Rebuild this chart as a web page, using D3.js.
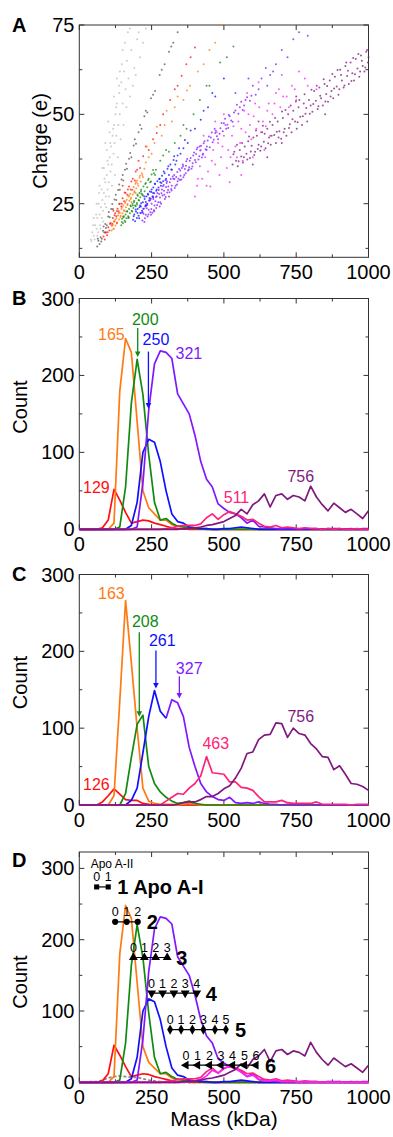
<!DOCTYPE html>
<html><head><meta charset="utf-8">
<script src="https://cdn.jsdelivr.net/npm/d3@7"></script>
<style>
body{margin:0;background:#fff}
svg{display:block}
text{font-family:"Liberation Sans",Arial,Helvetica,sans-serif}
</style>
</head><body>
<svg id="chart" width="393" height="1137"></svg>
<script>
// ---------------- DATA ----------------
const massBins = [0,20,40,60,80,100,120,140,160,180,200,220,240,260,280,300,320,340,360,380,400,420,440,460,480,500,520,540,560,580,600,620,640,660,680,700,720,740,760,780,800,820,840,860,880,900,920,940,960,980,1000];
const massTicks = [0,250,500,750,1000];
const massMinorTicks = [125,375,625,875];
const chargeTicks = [25,50,75];
const chargeMinorTicks = [12.5,37.5,62.5];
const countTicks = [0,100,200,300];
const countMinorTicks = [50,150,250];

// Panel B (also reused in D)
const redB    = [0,0,0,0,2,12,52,38,22,8,10,12,11,8,6,4,2,1,1,0,0,0,0,0,0,0,0,0,0,0,0,0,0,0,0,0,0,0,0,0,0,0,0,0,0,0,0,0,0,0,0];
const orangeB = [0,0,0,0,0,0,8,180,248,230,140,50,28,20,12,12,6,4,4,3,2,1,1,0,0,0,0,0,0,0,0,0,0,0,0,0,0,0,0,0,0,0,0,0,0,0,0,0,0,0,0];
const greenB  = [0,0,0,0,0,0,0,3,55,164,221,175,97,35,12,14,8,4,3,2,1,1,0,0,0,0,0,0,0,0,0,0,0,0,0,0,0,0,0,0,0,0,0,0,0,0,0,0,0,0,0];
const blueB   = [0,0,0,0,0,0,0,0,0,5,35,100,117,113,88,50,20,10,8,3,2,1,1,0,0,1,1,2,3,2,1,0,0,0,0,0,0,0,0,0,0,0,0,0,0,0,0,0,0,0,0];
const purpleB = [0,0,0,0,0,0,0,0,0,0,3,60,155,215,232,230,222,176,163,150,122,88,65,55,33,27,22,20,15,8,12,4,3,2,1,1,1,1,0,1,1,1,0,1,1,1,0,1,0,1,1];
const pinkB   = [0,0,0,0,0,0,0,0,0,0,0,0,0,0,0,1,2,4,5,5,5,7,15,20,13,19,23,20,17,12,13,8,4,3,5,2,3,2,1,2,1,1,0,1,0,1,0,0,1,0,0];
const plumB   = [0,0,0,0,0,0,0,0,0,0,0,0,0,0,0,0,0,0,1,1,2,3,5,6,8,10,14,18,26,20,32,37,46,29,44,46,39,44,42,37,56,42,32,24,34,28,22,26,20,14,24];

// Panel C
const redC    = [0,0,0,0,4,12,21,14,7,6,6,2,1,0,0,0,0,0,0,0,0,0,0,0,0,0,0,0,0,0,0,0,0,0,0,0,0,0,0,0,0,0,0,0,0,0,0,0,0,0,0];
const orangeC = [0,0,0,0,0,0,12,135,266,185,100,22,5,2,1,1,1,0,1,2,1,0,0,0,0,0,0,0,0,0,0,0,0,0,0,0,0,0,0,0,0,0,0,0,0,0,0,0,0,0,0];
const greenC  = [0,0,0,0,0,0,0,0,15,62,105,117,50,28,17,10,5,2,3,5,2,1,0,0,0,0,0,0,0,0,0,0,0,0,0,0,0,0,0,0,0,0,0,0,0,0,0,0,0,0,0];
const blueC   = [0,0,0,0,0,0,0,0,0,6,22,68,115,149,122,113,null,null,null,null,null,null,null,null,null,null,null,null,null,null,null,null,null,null,null,null,null,null,null,null,null,null,null,null,null,null,null,null,null,null,null];
const purpleC = [null,null,null,null,null,null,null,null,null,null,null,null,null,null,null,113,137,133,115,75,50,28,17,11,7,6,10,3,2,3,2,4,2,1,1,0,1,0,0,0,1,0,0,0,0,0,0,0,0,0,0];
const pinkC   = [0,0,0,0,0,0,0,0,0,0,0,0,0,0,0,5,10,15,14,22,28,38,63,42,41,40,30,30,23,22,19,11,4,4,4,6,3,2,2,2,2,4,1,1,1,1,1,0,1,1,1];
const plumC   = [0,0,0,0,0,0,0,0,0,0,0,0,0,0,0,0,0,1,3,4,4,7,11,11,15,21,25,35,48,67,69,85,91,92,107,106,88,100,93,91,80,73,63,62,46,51,40,28,27,24,19];

// Panel D extra series
const grayD    = [0,0,1,1,3,6,8,9,8,7,7,5,3,2,1,0,0,0,0,0,0,0,0,0,0,0,0,0,0,0,0,0,0,0,0,0,0,0,0,0,0,0,0,0,0,0,0,0,0,0,0];
const magentaD = [0,0,0,0,0,0,0,0,0,0,0,0,0,0,0,0,0,0,0,1,2,4,9,17,13,20,22,19,14,8,10,4,2,2,3,1,1,1,0,1,0,0,0,0,0,0,0,0,0,0,0];

// Panel D complex ladders (mass of each state, count level)
const ladderMasses = [[60,100],[124,164,202],[187,225,264,304],[250,288,327,366,406],[314,352,391,429,469,507],[369,409,450,490,530,571,611]];
const ladderLevels = [274,225,175,125,74,24];
const ladderNames  = ["1 Apo A-I","2","3","4","5","6"];

// Panel A scatter (mass kDa, charge e)
const scatterLightGray = [[40,15],[45,17],[50,16],[55,19],[60,18],[62,21],[65,17],[70,22],[72,19],[75,24],[78,21],[80,26],[82,23],[85,28],[88,25],[90,31],[92,27],[95,33],[98,29],[100,36],[102,31],[105,38],[108,34],[110,41],[112,36],[115,44],[118,39],[120,47],[122,42],[125,50],[128,44],[130,53],[135,47],[138,56],[140,50],[145,59],[150,53],[155,62],[160,57],[165,65],[170,60],[180,68],[190,63],[200,71],[210,66],[95,40],[85,35],[120,55],[140,62],[60,25],[50,21],[68,28],[105,45],[130,60],[150,68],[175,74],
 [42,14.5],[48,19],[53,15],[58,22],[63,16],[67,25],[73,18],[77,29],[83,20],[87,32],[93,24],[97,37],[103,27],[107,42],[113,30],[117,46],[123,33],[127,52],[133,38],[137,58],[143,43],[147,64],[153,47],[158,70],[163,52],[168,73],[175,55],[185,58],[195,61],[205,73],[220,70],[230,74],[100,48],[90,42],[80,35],[70,30]];
const scatterDarkGray = [[62,13],[66,14.6],[70,13.7],[74,15.6],[78,15.2],[82,17.4],[86,17],[90,19.3],[95,19],[100,21.4],[105,21.2],[110,23.5],[116,23.5],[122,26.2],[128,26],[134,28.8],[140,28.9],[146,31.8],[152,31.5],[158,34.5],[165,34.8],[172,37.6],[180,38],[188,41.3],[196,41.8],[205,45],[215,46],[225,49.5],[235,50.5],[248,54.5],[262,56.5],[278,61],[295,64],[310,67.5],[325,70],[340,73],
 [64,15.2],[76,14.4],[84,18.6],[92,18.2],[102,22.7],[114,24.9],[126,27.5],[138,30.4],[150,33],[162,36.2],[176,39.2],[192,43],[210,47],[230,51],[255,55.5],[285,62.5],[318,69]];
const scatterRed = [[84,15.8],[88,15],[92,17],[96,16.2],[100,18.4],[104,17.5],[108,19.6],[112,18.9],[116,21],[120,20],[124,22.3],[128,21.5],[132,23.6],[136,22.8],[140,25],[145,24.2],[150,26.5],[155,25.7],[160,28],[166,27.5],[172,29.8],[178,29],[185,32],[192,31.5],[200,34.5],[210,35],[221,38.3],[240,40],[268,44.8],[290,50],[314,54],[330,57],[354,60.8],[370,64],[400,68.7],[150,30],[130,19.5],[118,23],
 [90,16.9],[98,17],[106,19.3],[114,19.4],[122,21.8],[130,22.9],[138,24.9],[147,25],[157,28.1],[168,29],[180,31.2],[195,34],[205,37],[230,41],[255,43],[280,47],[340,58],[385,66]];
const scatterOrange = [[112,17.5],[116,19.2],[119,18],[122,20],[125,18.9],[128,20.9],[131,19.8],[134,21.7],[137,20.6],[140,22.5],[143,21.6],[146,23.5],[149,22.3],[152,24.5],[155,23.2],[158,25.2],[161,24],[164,26.1],[167,24.9],[170,27],[173,25.8],[176,27.8],[179,26.7],[182,28.8],[185,27.6],[188,29.7],[191,28.5],[194,30.6],[197,29.3],[200,31.4],[204,30],[208,32.3],[212,31.2],[216,33.5],[220,32.5],[225,34.8],[230,36.5],[233,41],[250,39],[268,46.5],[285,44],[302,51],[320,48],[340,55],[372,56.7],[383,58],[410,62],[450,68],[487,75],[135,23],[160,22.8],[180,25.5],[150,21.4],[195,28],
 [114,18.9],[118,17.9],[124,20.5],[130,19.6],[136,22.3],[142,21.2],[148,24],[154,23],[160,25.6],[166,24.6],[172,27.3],[178,26.3],[184,28.9],[190,28.1],[196,31],[202,30.6],[210,32.8],[218,33],[240,38],[260,42],[295,47],[330,52],[360,54],[430,64],[470,70]];
const scatterGreen = [[145,19],[148,20.8],[151,19.5],[154,21.5],[157,20.2],[160,22],[163,20.9],[166,22.8],[169,21.5],[172,23.5],[175,22.3],[178,24.3],[181,23],[184,25],[187,23.8],[190,25.8],[193,24.5],[196,26.5],[199,25.2],[202,27.2],[205,26],[208,28],[211,26.8],[214,28.9],[218,27.6],[222,29.8],[226,28.5],[230,30.8],[235,29.6],[240,32],[245,31],[250,33.2],[258,33.5],[265,34.5],[280,37],[300,40],[290,38.5],[330,42],[350,44],[371,46],[395,50],[417,54],[450,58],[487,64.5],[533,69],[170,21],[185,24.5],[200,24.8],[215,27.8],
 [147,19.9],[153,21.2],[159,19.9],[165,22.9],[171,21.2],[177,24.5],[183,22.8],[189,25.5],[195,24.3],[201,27.5],[207,25.9],[213,28.4],[220,27.3],[228,30.5],[238,31.6],[248,31.2],[255,34.4],[262,33],[310,39.5],[360,47],[440,58],[510,66]];
const scatterBlue = [[186,20.5],[190,22],[193,20.1],[196,22.8],[199,21],[202,23.5],[205,21.6],[208,24],[211,22.4],[214,25.1],[217,23],[220,25.4],[223,23.6],[226,26.3],[229,24.5],[232,27],[235,25],[238,27.5],[241,25.9],[244,28.4],[247,26.4],[250,29],[253,27],[256,29.5],[259,27.9],[262,30.5],[266,28.6],[270,31.3],[274,29.5],[278,32],[282,30],[286,32.8],[290,31.3],[295,33.5],[300,32],[305,34.8],[310,33],[315,36],[320,34.5],[326,37.2],[332,36],[340,38.5],[350,39],[360,40.5],[375,42],[400,46],[420,48.5],[445,52],[470,55],[210,24.5],[230,25.5],[255,28],[280,31],
 [188,21.5],[195,23.4],[201,22.4],[207,20.9],[213,24.2],[219,22.6],[225,27],[231,24.4],[237,27.8],[243,26.6],[249,28.3],[255,26.8],[261,30.6],[268,29],[276,31.9],[284,30.8],[292,34],[298,31.6],[308,35.5],[318,34.6],[328,38.3],[336,37],[345,40.5],[365,42.8],[385,45.5],[430,51],[460,56],[500,60]];
const scatterPurple = [[215,22.5],[218,20.3],[222,22.2],[225,19.9],[228,24.2],[230,21.9],[233,23.7],[236,21.4],[240,23.3],[243,25.9],[246,22.6],[250,25],[253,22.5],[256,26.3],[260,24.5],[263,25.7],[266,23.8],[270,28],[273,25.4],[276,27.7],[280,25.4],[284,27.9],[288,27.3],[292,30.2],[296,26.3],[300,29.7],[304,28.1],[308,29.8],[312,28.2],[316,31.9],[320,30],[325,32],[330,29.4],[335,32.5],[340,31.3],[345,34.7],[350,32.8],[355,35],[360,32.4],[365,34.7],[370,36.9],[376,34.3],[382,37],[388,34.8],[394,38.5],[400,37.2],[406,40.2],[412,37.4],[418,39.9],[424,37.9],[430,41.9],[437,40.2],[444,42.7],[451,40.8],[458,44.9],[465,42.9],[472,45.4],[480,43],[488,46.1],[496,45.3],[504,48.8],[512,47.1],[520,49.5],[530,47.9],[540,51.1],[550,50.2],[560,53.5],[570,52.5],[580,54.8],[590,53.8],[232,24.8],[248,21.9],[258,23.2],[268,27.1],[278,24.2],[286,29],[294,27.5],[302,30.8],[310,27],[318,29.1],[328,33],[338,30.4],[348,31.6],[358,36],[368,33.5],[380,35.2],[392,36.3],[404,38.9],[416,41],[428,39],[440,40],[455,43.5],[470,44.8],[485,44.6],[500,47.5],[515,46.2],[535,50.5],[555,52],[575,54],[600,58],[620,57],[645,63],[660,61],[700,68],[720,66],[760,73],[680,64],[610,55.5],[540,56],[585,60],
 [221,23.6],[227,20.9],[235,24.6],[239,22],[245,26],[249,23.5],[255,27],[259,22.9],[265,26.9],[269,24.6],[275,28.8],[279,26.7],[283,25],[289,29.9],[293,28.6],[299,26.9],[303,31.3],[307,28.8],[313,31],[319,28.7],[323,32.6],[329,31.9],[333,30],[339,33.9],[343,32],[349,34.3],[353,31.8],[359,35.5],[363,33],[369,35.6],[373,37.5],[379,34.6],[385,37.8],[391,35.4],[397,39.3],[403,36.6],[409,40.7],[415,38.3],[421,41.2],[427,38.7],[433,42.5],[441,41],[448,43.8],[461,42.2],[468,46],[476,43.9],[492,47.6],[508,46],[517,49.8],[525,48.3],[545,52.7],[565,51.2],[595,55.2],[630,60],[670,62],[740,71],[790,72],[650,58]];
const scatterMagenta = [[400,27],[407,30],[417,35.5],[425,32],[435,38],[445,34],[453,29.8],[463,40],[470,36],[480,42],[490,38],[500,44],[510,35],[523,38],[533,46.7],[540,41],[550,48],[556,42],[565,37],[575,45],[585,50],[595,43],[603,49.5],[612,46],[622,52],[635,48],[645,46.7],[655,53],[668,50],[680,56],[695,52],[717,55],[735,58],[750,54],[780,60],[430,44],[470,48],[520,31],[560,33],[600,38],[640,40],[500,50],[580,56],[620,59],[700,61],
 [410,32],[420,40],[440,30],[458,37],[475,45],[485,33],[495,41],[505,47],[515,40],[528,44],[545,38],[560,46],[570,51],[590,47],[608,53],[628,45],[650,51],[660,44],[675,53],[690,57],[705,55],[725,52],[745,57],[760,62],[790,58],[820,57]];
const scatterPlum = [[530,36],[536,39.5],[542,37],[548,35.5],[555,40],[560,38.2],[566,36.5],[572,41],[578,39],[584,42.5],[590,37.8],[596,41.2],[602,43.5],[608,39.5],[614,44],[620,41.5],[626,39.8],[632,45],[638,42.3],[644,40.5],[650,46],[656,43.5],[662,41.5],[668,47],[674,44.2],[680,42],[686,48],[692,45.3],[698,43.2],[704,49],[710,46],[716,44],[722,50],[728,47.2],[734,45],[740,51],[746,48],[752,46],[758,52],[764,49.3],[770,47],[776,53],[782,50.2],[788,48],[794,54],[800,52.5],[806,50.7],[812,56.5],[818,53.8],[824,51.5],[830,57.5],[836,54.5],[842,52.5],[848,58.5],[854,55.7],[860,53.5],[866,59.5],[872,56.5],[878,54.5],[884,60.5],[890,57.8],[896,55.5],[902,62.5],[908,59.5],[914,57.5],[920,63.5],[926,60.7],[932,58.5],[938,64.5],[944,61.5],[950,59.5],[956,65.5],[962,62.8],[968,60.5],[974,66.5],[980,63.5],[986,62],[992,67.5],[998,64.5],[1000,66],[600,36],[650,38],[700,42],[620,48],[750,55],[850,50],
 [533,38.8],[545,41.5],[551,36.9],[563,42],[569,38],[581,37.4],[587,43.8],[593,39.6],[605,38.6],[611,45.5],[617,40.3],[629,41],[635,46.8],[641,44.6],[653,41.9],[659,47.9],[665,44],[677,49],[683,45.1],[689,43.5],[701,50.8],[707,45],[713,51.2],[725,46.2],[731,52.5],[737,48.6],[749,53.6],[755,47.8],[761,54],[773,49.5],[779,55.6],[785,51.8],[797,50.2],[803,56.9],[809,52.9],[821,58],[827,52.3],[833,55.2],[845,59.8],[851,53.6],[857,57.9],[869,55],[875,61.3],[881,57.2],[893,62.4],[899,57],[905,61],[917,58.1],[923,64.5],[929,62.2],[941,59.3],[947,65.8],[953,61.2],[965,66.9],[971,62],[977,65],[989,63.1],[995,68]];

// ---------------- STYLE / LAYOUT ----------------
const COL = {red:"#ff1010", orange:"#ff7a10", green:"#118a11", blue:"#1010ff", purple:"#8018ff",
             pink:"#ff2277", plum:"#7e1a7e", magenta:"#ff20ff", gray:"#888888",
             lgray:"#c8c8c8", dgray:"#555555"};
const svg = d3.select("#chart");
const x = d3.scaleLinear().domain([0,1000]).range([79.3,368.5]);

function makePanel(top, bottom, domain, major, minor, letter, ylabel, ylabelY){
  const y = d3.scaleLinear().domain(domain).range([bottom, top]);
  const g = svg.append("g");
  g.append("rect").attr("x",x(0)).attr("y",top).attr("width",x(1000)-x(0)).attr("height",bottom-top)
    .attr("fill","none").attr("stroke","#333").attr("stroke-width",1);
  const tk = g.append("g").attr("stroke","#333").attr("stroke-width",1);
  const tx = (v,len)=>{ tk.append("line").attr("x1",x(v)).attr("x2",x(v)).attr("y1",bottom).attr("y2",bottom-len);
                        tk.append("line").attr("x1",x(v)).attr("x2",x(v)).attr("y1",top).attr("y2",top+len); };
  const ty = (v,len)=>{ tk.append("line").attr("y1",y(v)).attr("y2",y(v)).attr("x1",x(0)).attr("x2",x(0)+len);
                        tk.append("line").attr("y1",y(v)).attr("y2",y(v)).attr("x1",x(1000)).attr("x2",x(1000)-len); };
  massTicks.forEach(v=>tx(v,5)); massMinorTicks.forEach(v=>tx(v,3));
  major.forEach(v=>ty(v,5)); minor.forEach(v=>ty(v,3));
  g.selectAll(".xl").data(massTicks).join("text").attr("x",d=>x(d)).attr("y",bottom+22)
    .attr("text-anchor","middle").attr("font-size",20).text(d=>d);
  g.selectAll(".yl").data(major).join("text").attr("x",74.5).attr("y",d=>y(d)).attr("dy","0.35em")
    .attr("text-anchor","end").attr("font-size",20).text(d=>d);
  svg.append("text").attr("x",12).attr("y",letter.by).attr("font-size",20).attr("font-weight","bold").text(letter.t);
  svg.append("text").attr("transform",`translate(${ylabel.x},${ylabelY}) rotate(-90)`)
    .attr("text-anchor","middle").attr("dy","0.35em").attr("font-size",20).text(ylabel.t);
  return {g,y};
}

function drawLine(p, values, color, dash){
  const pts = massBins.map((m,i)=>[m, values[i]]);
  const line = d3.line().defined(d=>d[1]!=null).x(d=>x(d[0])).y(d=>p.y(d[1]));
  p.g.append("path").datum(pts).attr("d",line).attr("fill","none").attr("stroke",color)
    .attr("stroke-width",1.7).attr("stroke-linejoin","round").attr("stroke-dasharray",dash||null);
}
function label(p, t, mx, c, color){
  p.g.append("text").attr("x",x(mx)).attr("y",p.y(c)).attr("text-anchor","middle")
    .attr("font-size",16).attr("fill",color).text(t);
}
function arrow(p, mx, c0, c1, color){
  const X = x(mx), Y0 = p.y(c0), Y1 = p.y(c1);
  p.g.append("line").attr("x1",X).attr("x2",X).attr("y1",Y0).attr("y2",Y1-4).attr("stroke",color).attr("stroke-width",1.3);
  p.g.append("path").attr("d",`M${X-2.8},${Y1-5.5}L${X+2.8},${Y1-5.5}L${X},${Y1}Z`).attr("fill",color);
}

// ---------------- PANEL A ----------------
const pA = makePanel(25, 257.3, [10,75], chargeTicks, chargeMinorTicks, {t:"A",by:31.7}, {t:"Charge (e)",x:40}, 141);
[[scatterLightGray,COL.lgray,0.9],[scatterDarkGray,COL.dgray,0.75],[scatterRed,COL.red,0.75],[scatterOrange,COL.orange,0.75],
 [scatterGreen,COL.green,0.75],[scatterBlue,COL.blue,0.75],[scatterPurple,COL.purple,0.75],[scatterMagenta,COL.magenta,0.75],
 [scatterPlum,COL.plum,0.75]].forEach(([arr,c,o])=>{
  pA.g.append("g").selectAll("circle").data(arr).join("circle")
    .attr("cx",d=>x(d[0])).attr("cy",d=>pA.y(d[1])).attr("r",1).attr("fill",c).attr("opacity",o);
});

// ---------------- PANEL B ----------------
const pB = makePanel(298.5, 529.3, [0,300], countTicks, countMinorTicks, {t:"B",by:305}, {t:"Count",x:20}, 407);
drawLine(pB, redB, COL.red); drawLine(pB, orangeB, COL.orange); drawLine(pB, greenB, COL.green);
drawLine(pB, blueB, COL.blue); drawLine(pB, purpleB, COL.purple); drawLine(pB, pinkB, COL.pink); drawLine(pB, plumB, COL.plum);
label(pB,"165",111,246,COL.orange); label(pB,"200",228,265.5,COL.green); label(pB,"250",265,239.6,COL.blue);
label(pB,"321",379,222,COL.purple); label(pB,"129",59,46.8,COL.red); label(pB,"511",543.6,33.8,COL.pink); label(pB,"756",766,62,COL.plum);
arrow(pB,202,261.5,224,COL.green); arrow(pB,239,231,157,COL.blue);

// ---------------- PANEL C ----------------
const pC = makePanel(574.5, 805, [0,300], countTicks, countMinorTicks, {t:"C",by:580.7}, {t:"Count",x:20}, 682.5);
drawLine(pC, redC, COL.red); drawLine(pC, orangeC, COL.orange); drawLine(pC, greenC, COL.green);
drawLine(pC, purpleC, COL.purple); drawLine(pC, blueC, COL.blue); drawLine(pC, pinkC, COL.pink); drawLine(pC, plumC, COL.plum);
label(pC,"163",111,268.4,COL.orange); label(pC,"208",228,231.6,COL.green); label(pC,"261",287,206.5,COL.blue);
label(pC,"327",380,171,COL.purple); label(pC,"126",59,19.5,COL.red); label(pC,"463",472,72.3,COL.pink); label(pC,"756",766,108,COL.plum);
arrow(pC,207.5,225,114.7,COL.green); arrow(pC,265,201,151.5,COL.blue); arrow(pC,346,167.5,138.5,COL.purple);

// ---------------- PANEL D ----------------
const pD = makePanel(852, 1082.3, [0,323], countTicks, countMinorTicks, {t:"D",by:866.5}, {t:"Count",x:20}, 982);
drawLine(pD, grayD, COL.gray, "3,2");
drawLine(pD, redB, COL.red); drawLine(pD, orangeB, COL.orange); drawLine(pD, greenB, COL.green);
drawLine(pD, blueB, COL.blue); drawLine(pD, purpleB, COL.purple); drawLine(pD, pinkB, COL.pink);
drawLine(pD, magentaD, COL.magenta); drawLine(pD, plumB, COL.plum);

const symbols = [
  {type:d3.symbolSquare,size:26,rot:0},
  {type:d3.symbolCircle,size:30,rot:0},
  {type:d3.symbolTriangle,size:34,rot:0},
  {type:d3.symbolTriangle,size:34,rot:180},
  {type:d3.symbolDiamond,size:30,rot:0},
  {type:d3.symbolTriangle,size:34,rot:-90}
];
ladderMasses.forEach((ms,r)=>{
  const Y = pD.y(ladderLevels[r]);
  const lg = pD.g.append("g");
  lg.append("line").attr("x1",x(ms[0])).attr("x2",x(ms[ms.length-1])).attr("y1",Y).attr("y2",Y)
    .attr("stroke","#000").attr("stroke-width",1.2);
  const s = symbols[r];
  ms.forEach((m,i)=>{
    lg.append("path").attr("d",d3.symbol().type(s.type).size(s.size)())
      .attr("transform",`translate(${x(m)},${Y}) rotate(${s.rot})`).attr("fill","#000");
    lg.append("text").attr("x",x(m)).attr("y",Y-5.5).attr("text-anchor","middle").attr("font-size",12.5).text(i);
  });
  lg.append("text").attr("x",x(ms[ms.length-1])+9).attr("y",Y+7.5).attr("font-size",20)
    .attr("font-weight","bold").text(ladderNames[r]);
  if(r===0){
    lg.append("text").attr("x",x(ms[0])-6).attr("y",Y-18.5).attr("font-size",12).text("Apo A-II");
  }
});

svg.append("text").attr("x",224).attr("y",1126).attr("text-anchor","middle").attr("font-size",21).text("Mass (kDa)");
</script>
</body></html>
